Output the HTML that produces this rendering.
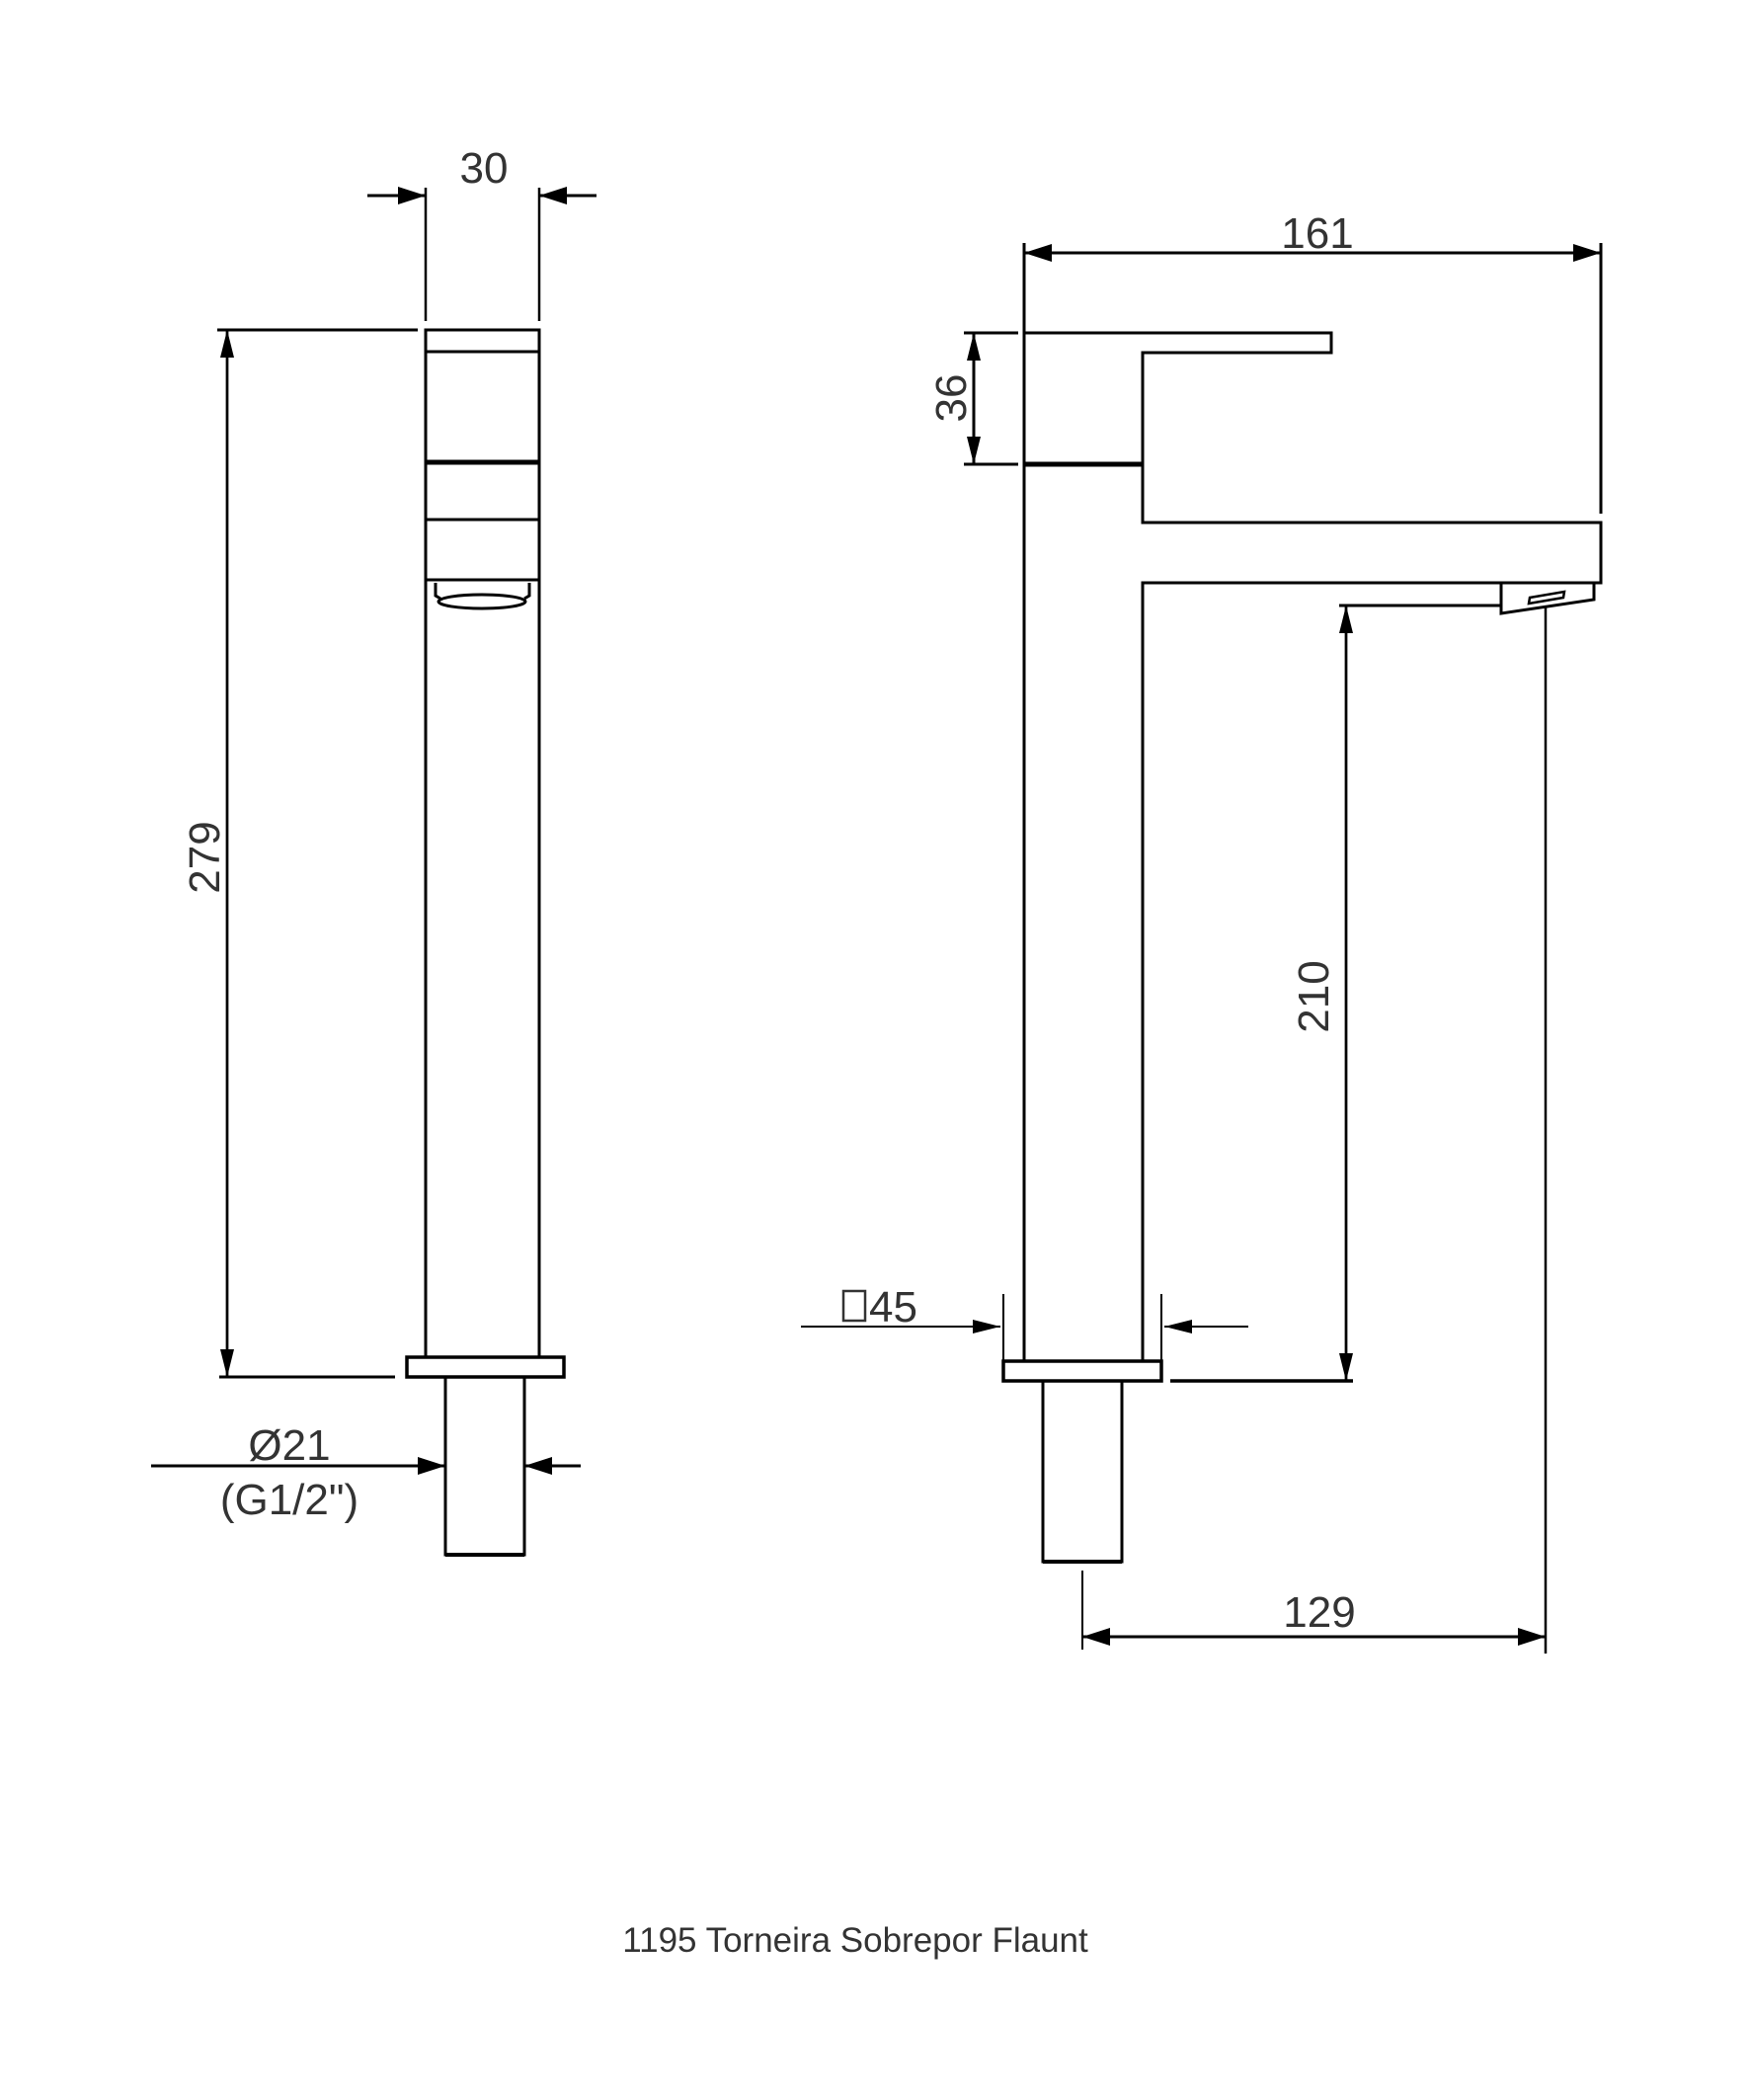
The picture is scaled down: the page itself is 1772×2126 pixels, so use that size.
<!DOCTYPE html>
<html><head><meta charset="utf-8"><style>html,body{margin:0;padding:0;background:#fff}svg{display:block}</style></head>
<body>
<svg width="1772" height="2126" viewBox="0 0 1772 2126" xmlns="http://www.w3.org/2000/svg">
<defs>
<marker id="a" viewBox="0 0 28 18" refX="28" refY="9" markerWidth="28" markerHeight="18" markerUnits="userSpaceOnUse" orient="auto-start-reverse"><path d="M0,0 L28,9 L0,18 z" fill="#000"/></marker>
<marker id="s" viewBox="0 0 28 14" refX="28" refY="7" markerWidth="28" markerHeight="14" markerUnits="userSpaceOnUse" orient="auto"><path d="M0,0 L28,7 L0,14 z" fill="#000"/></marker>
</defs>
<g stroke="#000" stroke-width="3" fill="none">
<!-- LEFT VIEW -->
<line x1="431" y1="190" x2="431" y2="325" stroke-width="2.5"/>
<line x1="546" y1="190" x2="546" y2="325" stroke-width="2.5"/>
<line x1="372" y1="198" x2="431" y2="198" marker-end="url(#a)"/>
<line x1="604" y1="198" x2="546" y2="198" marker-end="url(#a)"/>
<rect x="431" y="334" width="115" height="1040"/>
<line x1="431" y1="356" x2="546" y2="356"/>
<line x1="431" y1="468" x2="546" y2="468" stroke-width="5"/>
<line x1="431" y1="526" x2="546" y2="526"/>
<line x1="431" y1="587" x2="546" y2="587"/>
<path d="M441,590 L441,603 L446,606 M536,590 L536,603 L531,606"/>
<ellipse cx="488" cy="609" rx="44" ry="7"/>
<line x1="220" y1="334" x2="423" y2="334"/>
<line x1="230" y1="1394" x2="230" y2="334" stroke-width="2.5" marker-end="url(#s)"/>
<line x1="230" y1="334" x2="230" y2="1394" stroke-width="2.5" marker-end="url(#s)"/>
<line x1="222" y1="1394" x2="400" y2="1394"/>
<rect x="412" y="1374" width="159" height="20" stroke-width="3.5"/>
<rect x="451" y="1394" width="80" height="180"/>
<line x1="451" y1="1574" x2="531" y2="1574" stroke-width="4"/>
<line x1="153" y1="1484" x2="451" y2="1484" marker-end="url(#a)"/>
<line x1="588" y1="1484" x2="531" y2="1484" marker-end="url(#a)"/>
<!-- RIGHT VIEW -->
<line x1="1037" y1="246" x2="1037" y2="1378"/>
<line x1="1621" y1="246" x2="1621" y2="520"/>
<line x1="1037" y1="256" x2="1621" y2="256" marker-start="url(#a)" marker-end="url(#a)"/>
<path d="M1037,337 L1348,337 L1348,357 L1157,357 L1157,529 L1621,529 L1621,590 L1157,590 L1157,1378"/>
<line x1="1037" y1="470" x2="1157" y2="470" stroke-width="5"/>
<line x1="976" y1="337" x2="1031" y2="337"/>
<line x1="976" y1="470" x2="1031" y2="470"/>
<line x1="986" y1="470" x2="986" y2="337" marker-end="url(#s)"/>
<line x1="986" y1="337" x2="986" y2="470" marker-end="url(#s)"/>
<path d="M1520,590 L1520,621 L1614,607 L1614,590"/>
<path d="M1548,611 L1583,605 L1584,599 L1549,605 z" stroke-width="2.5"/>
<line x1="1356" y1="613" x2="1520" y2="613"/>
<line x1="1363" y1="1398" x2="1363" y2="613" stroke-width="2.5" marker-end="url(#s)"/>
<line x1="1363" y1="613" x2="1363" y2="1398" stroke-width="2.5" marker-end="url(#s)"/>
<line x1="1185" y1="1398" x2="1370" y2="1398" stroke-width="3.5"/>
<line x1="1565" y1="615" x2="1565" y2="1674" stroke-width="2.5"/>
<rect x="1016" y="1378" width="160" height="20" stroke-width="3.5"/>
<rect x="1056" y="1398" width="80" height="183"/>
<line x1="1056" y1="1581" x2="1136" y2="1581" stroke-width="4"/>
<line x1="1096" y1="1590" x2="1096" y2="1670" stroke-width="2"/>
<line x1="1096" y1="1657" x2="1565" y2="1657" marker-start="url(#a)" marker-end="url(#a)"/>
<line x1="1016" y1="1310" x2="1016" y2="1384" stroke-width="2"/>
<line x1="1176" y1="1310" x2="1176" y2="1384" stroke-width="2"/>
<line x1="811" y1="1343" x2="1013" y2="1343" stroke-width="2" marker-end="url(#s)"/>
<line x1="1264" y1="1343" x2="1179" y2="1343" stroke-width="2" marker-end="url(#s)"/>
<rect x="854" y="1307" width="22" height="30" stroke-width="2.5" stroke="#333"/>
</g>
<g font-family="'Liberation Sans', sans-serif" fill="#333" font-size="44">
<text x="490" y="185" text-anchor="middle">30</text>
<text x="1334" y="251" text-anchor="middle">161</text>
<text transform="translate(222,868) rotate(-90)" text-anchor="middle">279</text>
<text transform="translate(978,403) rotate(-90)" text-anchor="middle">36</text>
<text transform="translate(1345,1009) rotate(-90)" text-anchor="middle">210</text>
<text x="293" y="1478" text-anchor="middle">Ø21</text>
<text x="293" y="1533" text-anchor="middle">(G1/2")</text>
<text x="880" y="1338">45</text>
<text x="1336" y="1647" text-anchor="middle">129</text>
<text x="866" y="1976" text-anchor="middle" font-size="35">1195 Torneira Sobrepor Flaunt</text>
</g>
</svg>
</body></html>
